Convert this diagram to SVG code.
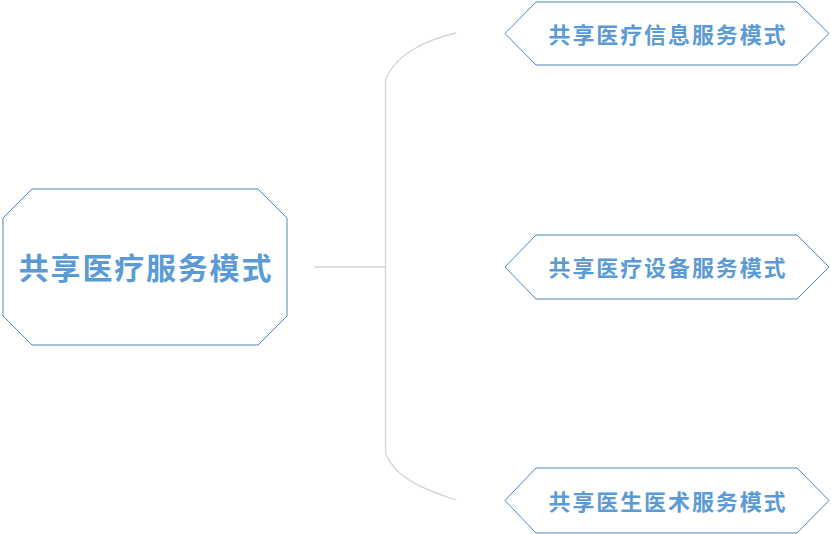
<svg xmlns="http://www.w3.org/2000/svg" width="831" height="534" viewBox="0 0 831 534">
<style>
.node{fill:#ffffff;stroke:#4a89c0;stroke-width:1}
.conn{fill:none;stroke:#d4d4d8;stroke-width:1.3}
.t{font-family:"Noto Sans CJK SC","Noto Sans CJK JP",sans-serif;font-weight:bold;fill:#5b9bd5;text-anchor:middle;dominant-baseline:central}
.big{font-size:30px;letter-spacing:1.8px}
.small{font-size:22px;letter-spacing:1.9px}
</style>
<rect width="831" height="534" fill="#ffffff"/>
<g id="connectors">
<path class="conn" d="M315,267 H385"/>
<path class="conn" d="M456,33 C425,40 395,55 385.5,80 V453 C395,478 425,490 456,500"/>
</g>
<g id="root">
<polygon class="node" points="32,189 258,189 287,218 287,316 258,345 32,345 3,316 3,218"/>
<text class="t big" x="146" y="266">共享医疗服务模式</text>
</g>
<g id="n1">
<polygon class="node" points="536,2 797,2 829,33.5 797,65 536,65 505,33.5"/>
<text class="t small" x="668" y="32.5">共享医疗信息服务模式</text>
</g>
<g id="n2">
<polygon class="node" points="536,235 797,235 829,267 797,299 536,299 505,267"/>
<text class="t small" x="668" y="266">共享医疗设备服务模式</text>
</g>
<g id="n3">
<polygon class="node" points="536,468 797,468 829,500.5 797,533 536,533 505,500.5"/>
<text class="t small" x="668" y="499.5">共享医生医术服务模式</text>
</g>
</svg>
